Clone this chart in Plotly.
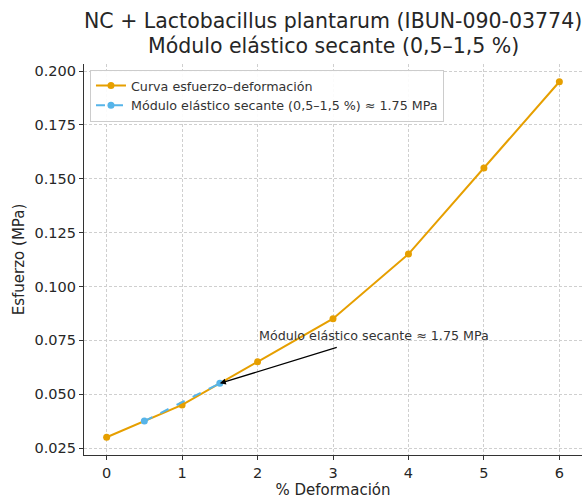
import plotly.graph_objects as go

deformacion = [0, 1, 2, 3, 4, 5, 6]
esfuerzo = [0.030, 0.045, 0.065, 0.085, 0.115, 0.155, 0.195]
secante_x = [0.5, 1.5]
secante_y = [0.0375, 0.055]
y_ticks = [0.025, 0.050, 0.075, 0.100, 0.125, 0.150, 0.175, 0.200]
x_ticks = [0, 1, 2, 3, 4, 5, 6]

ORANGE = "#E69F00"
BLUE = "#56B4E9"
FONT = "DejaVu Sans"

fig = go.Figure()
fig.add_trace(go.Scatter(
    x=deformacion, y=esfuerzo, mode="lines+markers",
    name="Curva esfuerzo–deformación",
    line=dict(color=ORANGE, width=2), marker=dict(color=ORANGE, size=7)))
fig.add_trace(go.Scatter(
    x=secante_x, y=secante_y, mode="lines+markers",
    name="Módulo elástico secante (0,5–1,5 %) ≈ 1.75 MPa",
    line=dict(color=BLUE, width=2, dash="dash"), marker=dict(color=BLUE, size=7)))

fig.add_annotation(x=1.5, y=0.055, ax=3.07, ay=0.0719, axref="x", ayref="y",
                   xref="x", yref="y", text="", showarrow=True,
                   arrowhead=2, arrowsize=1, arrowwidth=1.2, arrowcolor="black")
fig.add_annotation(x=1.99, y=0.0774, xref="x", yref="y", xanchor="left", yanchor="middle",
                   text="Módulo elástico secante ≈ 1.75 MPa", showarrow=False,
                   font=dict(family=FONT, size=12.7, color="#333333"))

# Title as two centred lines above the plot
fig.add_annotation(x=0.5, y=1, xref="paper", yref="paper", yshift=29,
                   xanchor="center", yanchor="bottom", showarrow=False,
                   text="NC + Lactobacillus plantarum (IBUN-090-03774)",
                   font=dict(family=FONT, size=20.5, color="#262626"))
fig.add_annotation(x=0.5, y=1, xref="paper", yref="paper", yshift=4,
                   xanchor="center", yanchor="bottom", showarrow=False,
                   text="Módulo elástico secante (0,5–1,5 %)",
                   font=dict(family=FONT, size=20.5, color="#262626"))

axis_common = dict(showgrid=True, gridcolor="#cfcfcf", griddash="3px,2px", gridwidth=1,
                   showline=True, linecolor="#333333", linewidth=1.2,
                   ticks="outside", ticklen=4, tickcolor="#333333",
                   tickfont=dict(family=FONT, size=14.5, color="#262626"),
                   zeroline=False, mirror=False, automargin=False)

fig.update_layout(
    width=588, height=500,
    margin=dict(l=84, r=6, t=64, b=45),
    paper_bgcolor="white", plot_bgcolor="white",
    font=dict(family=FONT, color="#262626"),
    xaxis=dict(range=[-0.3, 6.3], tickvals=x_ticks,
               title=dict(text="% Deformación", font=dict(family=FONT, size=15), standoff=2),
               **axis_common),
    yaxis=dict(range=[0.02175, 0.20325], tickvals=y_ticks, tickformat=".3f",
               title=dict(text="Esfuerzo (MPa)", font=dict(family=FONT, size=15), standoff=6),
               **axis_common),
    legend=dict(x=0.012, y=0.985, xanchor="left", yanchor="top",
                bgcolor="rgba(255,255,255,0.9)", bordercolor="#cccccc", borderwidth=1,
                font=dict(family=FONT, size=12.7, color="#333333"), tracegroupgap=2),
    showlegend=True,
)

fig.write_html("out.html", config={"displayModeBar": False},
               post_script="document.body.style.margin='0';")
